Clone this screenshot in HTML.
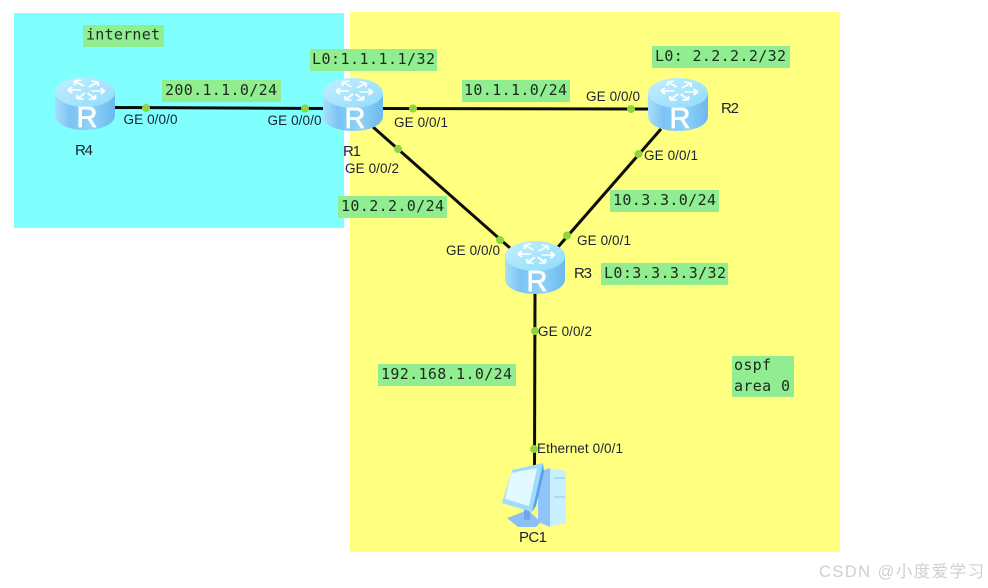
<!DOCTYPE html>
<html><head><meta charset="utf-8">
<style>
html,body{margin:0;padding:0;background:#fff;width:988px;height:588px;overflow:hidden}
svg{display:block}
.m{font-family:"DejaVu Sans Mono","Liberation Mono",monospace;font-size:15px;fill:#1c2a1c}
.s{font-family:"Liberation Sans",sans-serif;font-size:13.5px;fill:#1a2030}
.n{font-family:"Liberation Sans",sans-serif;font-size:15px;fill:#1a2030}
.rl{font-family:"Liberation Sans",sans-serif;font-size:29px;fill:#fff;text-anchor:middle;stroke:#fff;stroke-width:.7}
.g{fill:#90ee90}
</style></head><body>
<svg width="988" height="588" viewBox="0 0 988 588" xmlns="http://www.w3.org/2000/svg">
<defs>
<filter id="soft" x="0" y="0" width="100%" height="100%"><feGaussianBlur stdDeviation="0.35"/></filter>
<linearGradient id="body" x1="0" x2="1" y1="0" y2="0">
<stop offset="0" stop-color="#a9e0fb"/><stop offset=".25" stop-color="#7cc3f4"/><stop offset=".6" stop-color="#8fd2f8"/><stop offset="1" stop-color="#6bb9ee"/>
</linearGradient>
<linearGradient id="top" x1="0" x2="1" y1="0" y2="1">
<stop offset="0" stop-color="#c4efff"/><stop offset="1" stop-color="#8fdcfb"/>
</linearGradient>
<g id="router">
<path d="M0 15 V38 C0 47 13 53 30 53 C47 53 60 47 60 38 V15 Z" fill="url(#body)"/>
<ellipse cx="30" cy="15" rx="30" ry="15" fill="url(#top)"/>
<g stroke="#fff" stroke-width="1.6" fill="none" transform="translate(30 13) scale(1.3 1) translate(-30 -13)">
<path d="M22 4 L29 9 M22 4 l5 -1 M22 4 l0 4"/>
<path d="M40 5 L33 10 M40 5 l-5 -1 M40 5 l0 4"/>
<path d="M17 13 L27 13 M17 13 l3 -3 M17 13 l3 3"/>
<path d="M45 14 L35 14 M45 14 l-3 -3 M45 14 l-3 3"/>
<path d="M24 22 L30 16 M24 22 l5 0 M24 22 l0 -4"/>
<path d="M38 22 L32 16 M38 22 l-5 0 M38 22 l0 -4"/>
</g>
</g>
</defs>

<g filter="url(#soft)">
<rect x="0" y="0" width="988" height="588" fill="#fff"/>
<rect x="350" y="12" width="490" height="540" fill="#ffff80"/>
<rect x="14" y="13" width="330" height="215" fill="#80ffff"/>

<g class="g">
<rect x="83" y="25" width="81" height="22"/>
<rect x="310" y="49" width="127" height="22"/>
<rect x="162" y="80" width="119" height="22"/>
<rect x="462" y="80" width="108" height="22"/>
<rect x="652" y="46" width="138" height="22"/>
<rect x="338" y="196" width="109" height="22"/>
<rect x="610" y="190" width="109" height="22"/>
<rect x="601" y="263" width="127" height="22"/>
<rect x="378" y="364" width="138" height="22"/>
<rect x="732" y="356" width="62" height="41"/>
</g>

<g stroke="#0d0d0d" stroke-width="3" fill="none">
<line x1="115" y1="107.500" x2="323" y2="108.500"/>
<line x1="383" y1="108.500" x2="648" y2="109"/>
<line x1="373" y1="127" x2="510" y2="248"/>
<line x1="661" y1="129" x2="558" y2="247"/>
<line x1="535" y1="293" x2="534.500" y2="466"/>
</g>

<use href="#router" x="55" y="77"/>
<use href="#router" x="323" y="78"/>
<use href="#router" x="648" y="78"/>
<use href="#router" x="505" y="241"/>
<text class="rl" x="87" y="127">R</text>
<text class="rl" x="355" y="128">R</text>
<text class="rl" x="680" y="128">R</text>
<text class="rl" x="537" y="291">R</text>

<g fill="#8ed63c">
<circle cx="146" cy="108" r="4"/><circle cx="305" cy="108.500" r="4"/>
<circle cx="413" cy="108.500" r="4"/><circle cx="631" cy="109" r="4"/>
<circle cx="398" cy="149" r="4"/><circle cx="638.500" cy="154" r="4"/>
<circle cx="500" cy="240" r="4"/><circle cx="567" cy="235.500" r="4"/>
<circle cx="535" cy="331" r="4"/><circle cx="534" cy="449" r="4"/>
</g>

<!-- PC -->
<g>
<path d="M507 518 L528 510 L541 522 L536 527 L518 527 Z" fill="#8cc0f5"/>
<rect x="524" y="506" width="6" height="14" fill="#6ba9ee"/>
<path d="M548 468 L566 471 L566 523 L548 527 Z" fill="#c8f0ff"/>
<path d="M538 472 L550 468 L550 527 L538 522 Z" fill="#8fc4fa"/>
<path d="M554 478 H565 M554 497 H565" stroke="#8fc4fa" stroke-width="1" fill="none"/>
<path d="M512 470 L543 463 L541 475 L532 512 L502 503 Z" fill="#9fdcfb"/>
<path d="M543 463 L544 472 L536 506 L532 512 L537 490 Z" fill="#5c9ff0"/>
<path d="M511 473 L537 468 L529 506 L505 499 Z" fill="#e2f9ff"/>
</g>

<g class="m">
<text x="86" y="39.500" textLength="74">internet</text>
<text x="312" y="64" textLength="123">L0:1.1.1.1/32</text>
<text x="165" y="95" textLength="112">200.1.1.0/24</text>
<text x="464" y="95" textLength="103">10.1.1.0/24</text>
<text x="655" y="61" textLength="131">L0: 2.2.2.2/32</text>
<text x="341" y="211" textLength="103">10.2.2.0/24</text>
<text x="613" y="205" textLength="103">10.3.3.0/24</text>
<text x="604" y="278" textLength="122">L0:3.3.3.3/32</text>
<text x="381" y="379" textLength="131">192.168.1.0/24</text>
<text x="734" y="370" textLength="37">ospf</text>
<text x="734" y="391" textLength="56">area 0</text>
</g>

<g class="s">
<text x="123.500" y="124" textLength="54">GE 0/0/0</text>
<text x="267.500" y="125" textLength="54">GE 0/0/0</text>
<text x="394" y="127" textLength="54">GE 0/0/1</text>
<text x="586" y="101" textLength="54">GE 0/0/0</text>
<text x="345" y="173" textLength="54">GE 0/0/2</text>
<text x="644" y="160" textLength="54">GE 0/0/1</text>
<text x="446" y="255" textLength="54">GE 0/0/0</text>
<text x="577" y="245" textLength="54">GE 0/0/1</text>
<text x="538" y="336" textLength="54">GE 0/0/2</text>
<text x="537" y="453" textLength="86">Ethernet 0/0/1</text>
</g>

<g class="n">
<text x="75" y="155" textLength="18">R4</text>
<text x="343" y="156" textLength="18">R1</text>
<text x="721" y="113" textLength="18">R2</text>
<text x="574" y="278" textLength="18">R3</text>
<text x="519" y="542" textLength="28">PC1</text>
</g>

<text x="819" y="577" font-family="'Liberation Sans','Noto Sans CJK SC',sans-serif" font-size="16.500" fill="#cfcfcf" textLength="165">CSDN @小度爱学习</text>
</g>
</svg>
</body></html>
